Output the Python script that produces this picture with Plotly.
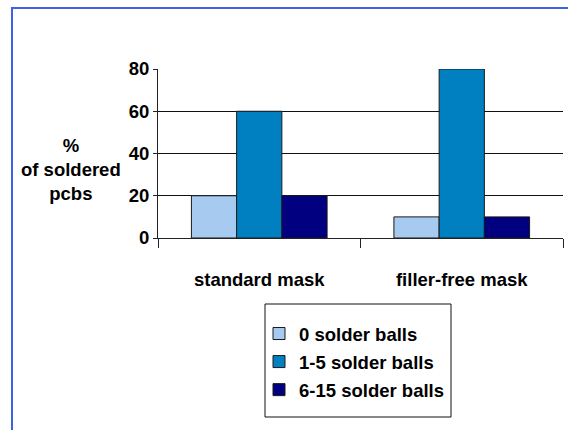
import plotly.graph_objects as go

categories = ["standard mask", "filler-free mask"]
series_names = ["0 solder balls", "1-5 solder balls", "6-15 solder balls"]
zero_balls = [20, 10]
one_to_five = [60, 80]
six_to_fifteen = [20, 10]
y_ticks = [0, 20, 40, 60, 80]
colors = ["#A6CAF0", "#0080C0", "#000080"]

W, H = 568, 430
L, R, T, B = 158, 563, 69, 238  # plot area in pixels


def px(x):
    return (x - L) / (R - L)


def py(y):
    return (B - y) / (B - T)


FONT = "Liberation Sans, Arial, sans-serif"
FS = 18.5

fig = go.Figure()
for name, vals, col in zip(series_names, [zero_balls, one_to_five, six_to_fifteen], colors):
    fig.add_trace(go.Bar(
        x=categories, y=vals, name=name, legendgroup=name,
        marker=dict(color=col, line=dict(color="#1a1a1a", width=1)),
    ))

fig.update_layout(
    width=W, height=H,
    margin=dict(l=L, r=W - R, t=T, b=H - B, pad=0),
    paper_bgcolor="white", plot_bgcolor="white",
    barmode="group", bargap=0.33, bargroupgap=0,
    font=dict(family=FONT, size=FS, color="black", weight="bold"),
    showlegend=True,
    legend=dict(
        x=px(259), y=py(315), xanchor="left", yanchor="top",
        bgcolor="rgba(0,0,0,0)", borderwidth=0,
        font=dict(family=FONT, size=FS, color="black", weight="bold"),
        tracegroupgap=1,
    ),
    xaxis=dict(
        type="category", showgrid=False, showline=True, linecolor="#222", linewidth=1,
        ticks="outside", tickson="boundaries", ticklen=9, tickcolor="#222",
        ticklabelstandoff=25, tickfont=dict(size=FS, family=FONT, weight="bold"),
    ),
    yaxis=dict(
        range=[0, 80], tickvals=y_ticks, showgrid=True, gridcolor="#111", gridwidth=1,
        showline=True, linecolor="#222", linewidth=1, ticks="outside", ticklen=4,
        tickcolor="#222", zeroline=False, tickfont=dict(size=FS, family=FONT, weight="bold"),
    ),
    shapes=[
        dict(type="rect", xref="paper", yref="paper",
             x0=px(12), x1=px(700), y0=py(8), y1=py(700),
             line=dict(color="#3D62E6", width=2), fillcolor="rgba(0,0,0,0)", layer="below"),
        dict(type="rect", xref="paper", yref="paper",
             x0=px(265), x1=px(451), y0=py(304), y1=py(417),
             line=dict(color="#111", width=1), fillcolor="rgba(0,0,0,0)"),
    ],
    annotations=[
        dict(text="%<br>of soldered<br>pcbs", xref="paper", yref="paper",
             x=px(71), y=py(169), xanchor="center", yanchor="middle", showarrow=False,
             align="center", font=dict(family=FONT, size=FS, color="black", weight="bold")),
    ],
)

fig.write_html("out.html")
